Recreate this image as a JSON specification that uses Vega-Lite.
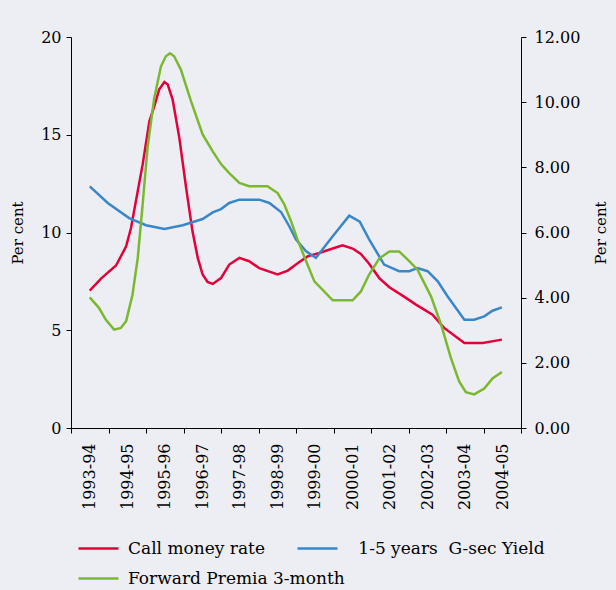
{
  "$schema": "https://vega.github.io/schema/vega-lite/v6.json",
  "width": 450,
  "height": 391,
  "padding": {"left": 10, "top": 29, "right": 9, "bottom": 12},
  "background": "#EDEEF4",
  "config": {
    "view": {"stroke": null},
    "axis": {
      "grid": false,
      "domainColor": "#000000",
      "tickColor": "#000000",
      "labelColor": "#000000",
      "titleColor": "#000000",
      "labelFont": "DejaVu Serif",
      "titleFont": "DejaVu Serif",
      "labelFontSize": 16,
      "titleFontSize": 15,
      "titleFontWeight": "normal",
      "labelFlush": false,
      "labelOverlap": false,
      "tickSize": 5,
      "labelPadding": 5
    }
  },
  "datasets": {
    "rates": [
      {"series": "Call money rate", "t": 0, "v": 7.03},
      {"series": "Call money rate", "t": 0.3, "v": 7.64},
      {"series": "Call money rate", "t": 0.7, "v": 8.31},
      {"series": "Call money rate", "t": 0.97, "v": 9.29},
      {"series": "Call money rate", "t": 1.1, "v": 10.23},
      {"series": "Call money rate", "t": 1.23, "v": 11.6},
      {"series": "Call money rate", "t": 1.41, "v": 13.47},
      {"series": "Call money rate", "t": 1.59, "v": 15.69},
      {"series": "Call money rate", "t": 1.72, "v": 16.45},
      {"series": "Call money rate", "t": 1.85, "v": 17.31},
      {"series": "Call money rate", "t": 1.99, "v": 17.7},
      {"series": "Call money rate", "t": 2.08, "v": 17.57},
      {"series": "Call money rate", "t": 2.21, "v": 16.8},
      {"series": "Call money rate", "t": 2.39, "v": 14.83},
      {"series": "Call money rate", "t": 2.57, "v": 12.28},
      {"series": "Call money rate", "t": 2.74, "v": 10.06},
      {"series": "Call money rate", "t": 2.88, "v": 8.7},
      {"series": "Call money rate", "t": 3.01, "v": 7.85},
      {"series": "Call money rate", "t": 3.14, "v": 7.47},
      {"series": "Call money rate", "t": 3.28, "v": 7.37},
      {"series": "Call money rate", "t": 3.5, "v": 7.67},
      {"series": "Call money rate", "t": 3.72, "v": 8.36},
      {"series": "Call money rate", "t": 3.99, "v": 8.7},
      {"series": "Call money rate", "t": 4.25, "v": 8.53},
      {"series": "Call money rate", "t": 4.52, "v": 8.18},
      {"series": "Call money rate", "t": 5.01, "v": 7.85},
      {"series": "Call money rate", "t": 5.28, "v": 8.05},
      {"series": "Call money rate", "t": 5.59, "v": 8.49},
      {"series": "Call money rate", "t": 5.81, "v": 8.78},
      {"series": "Call money rate", "t": 6.12, "v": 8.95},
      {"series": "Call money rate", "t": 6.48, "v": 9.18},
      {"series": "Call money rate", "t": 6.74, "v": 9.35},
      {"series": "Call money rate", "t": 7.01, "v": 9.18},
      {"series": "Call money rate", "t": 7.23, "v": 8.9},
      {"series": "Call money rate", "t": 7.45, "v": 8.4},
      {"series": "Call money rate", "t": 7.72, "v": 7.67},
      {"series": "Call money rate", "t": 7.99, "v": 7.2},
      {"series": "Call money rate", "t": 8.34, "v": 6.77},
      {"series": "Call money rate", "t": 8.7, "v": 6.31},
      {"series": "Call money rate", "t": 9.14, "v": 5.8},
      {"series": "Call money rate", "t": 9.45, "v": 5.12},
      {"series": "Call money rate", "t": 9.99, "v": 4.35},
      {"series": "Call money rate", "t": 10.48, "v": 4.35},
      {"series": "Call money rate", "t": 10.99, "v": 4.52},
      {"series": "1-5 years G-sec Yield", "t": 0, "v": 12.36},
      {"series": "1-5 years G-sec Yield", "t": 0.48, "v": 11.51},
      {"series": "1-5 years G-sec Yield", "t": 1.05, "v": 10.74},
      {"series": "1-5 years G-sec Yield", "t": 1.5, "v": 10.37},
      {"series": "1-5 years G-sec Yield", "t": 1.99, "v": 10.18},
      {"series": "1-5 years G-sec Yield", "t": 2.48, "v": 10.37},
      {"series": "1-5 years G-sec Yield", "t": 3.01, "v": 10.69},
      {"series": "1-5 years G-sec Yield", "t": 3.28, "v": 11.03},
      {"series": "1-5 years G-sec Yield", "t": 3.5, "v": 11.2},
      {"series": "1-5 years G-sec Yield", "t": 3.72, "v": 11.51},
      {"series": "1-5 years G-sec Yield", "t": 3.99, "v": 11.68},
      {"series": "1-5 years G-sec Yield", "t": 4.52, "v": 11.68},
      {"series": "1-5 years G-sec Yield", "t": 4.79, "v": 11.51},
      {"series": "1-5 years G-sec Yield", "t": 5.1, "v": 11.05},
      {"series": "1-5 years G-sec Yield", "t": 5.32, "v": 10.32},
      {"series": "1-5 years G-sec Yield", "t": 5.5, "v": 9.64},
      {"series": "1-5 years G-sec Yield", "t": 5.77, "v": 9.04},
      {"series": "1-5 years G-sec Yield", "t": 6.03, "v": 8.7},
      {"series": "1-5 years G-sec Yield", "t": 6.48, "v": 9.81},
      {"series": "1-5 years G-sec Yield", "t": 6.92, "v": 10.86},
      {"series": "1-5 years G-sec Yield", "t": 7.2, "v": 10.55},
      {"series": "1-5 years G-sec Yield", "t": 7.45, "v": 9.65},
      {"series": "1-5 years G-sec Yield", "t": 7.85, "v": 8.36},
      {"series": "1-5 years G-sec Yield", "t": 8.25, "v": 8.02},
      {"series": "1-5 years G-sec Yield", "t": 8.52, "v": 8.02},
      {"series": "1-5 years G-sec Yield", "t": 8.74, "v": 8.18},
      {"series": "1-5 years G-sec Yield", "t": 9.01, "v": 8.02},
      {"series": "1-5 years G-sec Yield", "t": 9.28, "v": 7.5},
      {"series": "1-5 years G-sec Yield", "t": 9.54, "v": 6.74},
      {"series": "1-5 years G-sec Yield", "t": 9.99, "v": 5.54},
      {"series": "1-5 years G-sec Yield", "t": 10.25, "v": 5.54},
      {"series": "1-5 years G-sec Yield", "t": 10.52, "v": 5.71},
      {"series": "1-5 years G-sec Yield", "t": 10.74, "v": 6.0},
      {"series": "1-5 years G-sec Yield", "t": 10.99, "v": 6.17}
    ],
    "premia": [
      {"series": "Forward Premia 3-month", "t": 0, "v": 4.01},
      {"series": "Forward Premia 3-month", "t": 0.25, "v": 3.68},
      {"series": "Forward Premia 3-month", "t": 0.43, "v": 3.32},
      {"series": "Forward Premia 3-month", "t": 0.65, "v": 3.02},
      {"series": "Forward Premia 3-month", "t": 0.83, "v": 3.07},
      {"series": "Forward Premia 3-month", "t": 0.97, "v": 3.28},
      {"series": "Forward Premia 3-month", "t": 1.14, "v": 4.09},
      {"series": "Forward Premia 3-month", "t": 1.28, "v": 5.22},
      {"series": "Forward Premia 3-month", "t": 1.41, "v": 6.86},
      {"series": "Forward Premia 3-month", "t": 1.54, "v": 8.59},
      {"series": "Forward Premia 3-month", "t": 1.72, "v": 10.13},
      {"series": "Forward Premia 3-month", "t": 1.9, "v": 11.1},
      {"series": "Forward Premia 3-month", "t": 2.03, "v": 11.41},
      {"series": "Forward Premia 3-month", "t": 2.14, "v": 11.5},
      {"series": "Forward Premia 3-month", "t": 2.25, "v": 11.41},
      {"series": "Forward Premia 3-month", "t": 2.43, "v": 11.0},
      {"series": "Forward Premia 3-month", "t": 2.7, "v": 10.03},
      {"series": "Forward Premia 3-month", "t": 3.01, "v": 9.01},
      {"series": "Forward Premia 3-month", "t": 3.28, "v": 8.49},
      {"series": "Forward Premia 3-month", "t": 3.5, "v": 8.1},
      {"series": "Forward Premia 3-month", "t": 3.72, "v": 7.82},
      {"series": "Forward Premia 3-month", "t": 3.99, "v": 7.52},
      {"series": "Forward Premia 3-month", "t": 4.25, "v": 7.42},
      {"series": "Forward Premia 3-month", "t": 4.74, "v": 7.42},
      {"series": "Forward Premia 3-month", "t": 5.01, "v": 7.21},
      {"series": "Forward Premia 3-month", "t": 5.19, "v": 6.86},
      {"series": "Forward Premia 3-month", "t": 5.37, "v": 6.34},
      {"series": "Forward Premia 3-month", "t": 5.54, "v": 5.78},
      {"series": "Forward Premia 3-month", "t": 5.77, "v": 5.12},
      {"series": "Forward Premia 3-month", "t": 5.99, "v": 4.5},
      {"series": "Forward Premia 3-month", "t": 6.48, "v": 3.92},
      {"series": "Forward Premia 3-month", "t": 7.01, "v": 3.92},
      {"series": "Forward Premia 3-month", "t": 7.23, "v": 4.19},
      {"series": "Forward Premia 3-month", "t": 7.45, "v": 4.71},
      {"series": "Forward Premia 3-month", "t": 7.72, "v": 5.2},
      {"series": "Forward Premia 3-month", "t": 7.99, "v": 5.42},
      {"series": "Forward Premia 3-month", "t": 8.25, "v": 5.42},
      {"series": "Forward Premia 3-month", "t": 8.52, "v": 5.12},
      {"series": "Forward Premia 3-month", "t": 8.74, "v": 4.86},
      {"series": "Forward Premia 3-month", "t": 9.1, "v": 4.04},
      {"series": "Forward Premia 3-month", "t": 9.37, "v": 3.17},
      {"series": "Forward Premia 3-month", "t": 9.63, "v": 2.15},
      {"series": "Forward Premia 3-month", "t": 9.85, "v": 1.43},
      {"series": "Forward Premia 3-month", "t": 10.03, "v": 1.1},
      {"series": "Forward Premia 3-month", "t": 10.25, "v": 1.03},
      {"series": "Forward Premia 3-month", "t": 10.52, "v": 1.21},
      {"series": "Forward Premia 3-month", "t": 10.74, "v": 1.52},
      {"series": "Forward Premia 3-month", "t": 10.99, "v": 1.72}
    ]
  },
  "encoding": {
    "x": {
      "field": "t",
      "type": "quantitative",
      "scale": {"domain": [-0.5, 11.5], "nice": false, "zero": false},
      "axis": {
        "title": null,
        "values": [-0.5, 0, 0.5, 1, 1.5, 2, 2.5, 3, 3.5, 4, 4.5, 5, 5.5, 6, 6.5, 7, 7.5, 8, 8.5, 9, 9.5, 10, 10.5, 11, 11.5],
        "labelExpr": "datum.value % 1 === 0 ? (1993 + datum.value) + '-' + slice('0' + ((1994 + datum.value) % 100), -2) : ''",
        "tickOpacity": {"condition": {"test": "datum.value % 1 === 0", "value": 0}, "value": 1},
        "labelAngle": -90,
        "labelAlign": "right",
        "labelBaseline": "middle",
        "labelPadding": 10
      }
    },
    "color": {
      "field": "series",
      "type": "nominal",
      "scale": {
        "domain": ["Call money rate", "1-5 years G-sec Yield", "Forward Premia 3-month"],
        "range": ["#E4003B", "#3A87C8", "#7CB82F"]
      },
      "legend": {
        "orient": "none",
        "legendX": 6,
        "legendY": 490,
        "direction": "horizontal",
        "columns": 2,
        "gridAlign": "none",
        "title": null,
        "symbolType": "stroke",
        "symbolSize": 1600,
        "symbolStrokeWidth": 2.5,
        "labelFont": "DejaVu Serif",
        "labelFontSize": 17,
        "labelColor": "#000000",
        "labelOffset": 8,
        "labelLimit": 400,
        "columnPadding": -53,
        "rowPadding": 0,
        "labelExpr": "datum.label == '1-5 years G-sec Yield' ? '\u200b\u2002\u20061-5 years\u00a0\u00a0G-sec Yield' : datum.label"
      }
    }
  },
  "layer": [
    {
      "data": {"name": "rates"},
      "mark": {"type": "line", "strokeWidth": 2.5},
      "encoding": {
        "y": {
          "field": "v",
          "type": "quantitative",
          "scale": {"domain": [0, 20], "nice": false},
          "axis": {"orient": "left", "title": "Per cent", "values": [0, 5, 10, 15, 20], "titlePadding": 15}
        }
      }
    },
    {
      "data": {"name": "premia"},
      "mark": {"type": "line", "strokeWidth": 2.5},
      "encoding": {
        "y": {
          "field": "v",
          "type": "quantitative",
          "scale": {"domain": [0, 12], "nice": false},
          "axis": {"orient": "right", "title": "Per cent", "values": [0, 2, 4, 6, 8, 10, 12], "format": ".2f", "titleAngle": -90, "titlePadding": 29, "labelPadding": 8}
        }
      }
    }
  ],
  "resolve": {"scale": {"y": "independent"}}
}
